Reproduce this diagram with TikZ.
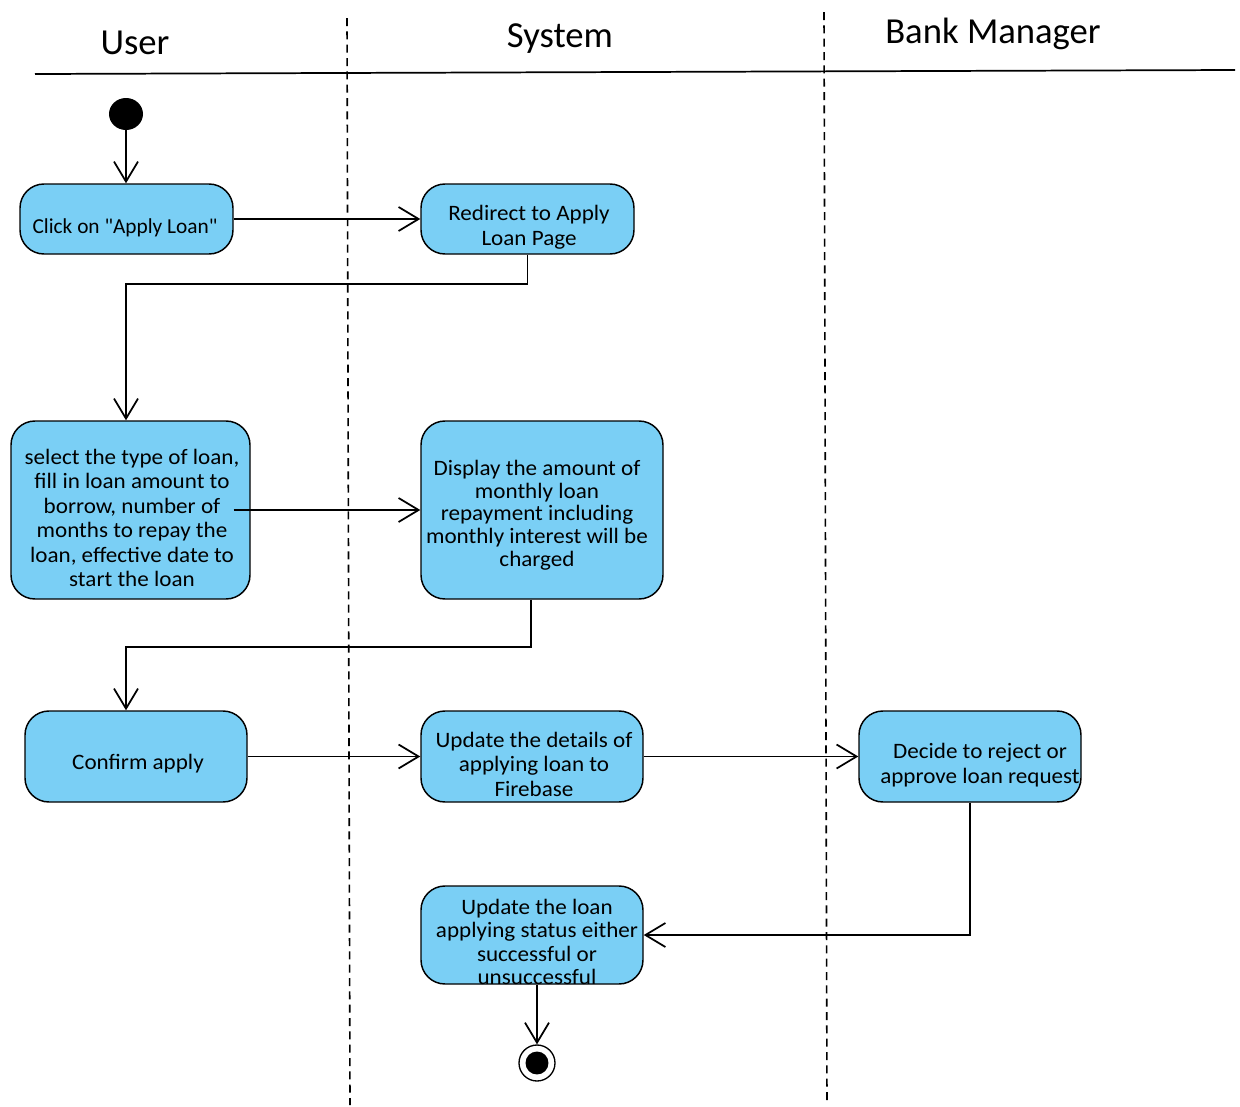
\documentclass[tikz,border=0pt]{standalone}
\usepackage{fontspec}
\setmainfont{Carlito}[Ligatures=TeXOff]
\newfontfamily\boxfont{Carlito}[Ligatures=TeXOff, FakeStretch=1.05]
\usetikzlibrary{arrows.meta,shapes.geometric}
\definecolor{actfill}{RGB}{122,207,245}

\begin{document}
\begin{tikzpicture}[x=0.75pt,y=-0.75pt,
  act/.style={draw=black, line width=1.1pt, fill=actfill, rounded corners=18pt, inner sep=0pt},
  txt/.style={align=center, inner sep=0pt, font=\boxfont\fontsize{16.5}{18.4}\selectfont},
  flow/.style={draw=black, line width=1.3pt, -{Straight Barb[length=15pt,width=18pt,line width=1.3pt]}},
  lane/.style={line width=1.2pt, dash pattern=on 6pt off 4pt},
  head/.style={font=\fontsize{27.5}{32}\selectfont, inner sep=0pt}
]
% canvas
\useasboundingbox (0,0) rectangle (1240,1107);

% swimlane headers and separators
\node[head] (hUser) at (135,43) {User};
\node[head] (hSys) at (560,39) {System};
\node[head] (hBank) at (993,34) {Bank Manager};
\draw[line width=1.3pt] (35,74) -- (1235,70);
\draw[lane] (347,18) -- (350,1105);
\draw[lane] (824,12) -- (827,1105);

% start and end states
\node[fill=black, ellipse, minimum width=25.5pt, minimum height=24pt, inner sep=0pt] (init) at (126,114) {};
\node[circle, draw=black, line width=1pt, fill=white, minimum size=27pt, inner sep=0pt] (fin) at (537,1063) {};
\fill[black] (fin.center) circle (8.6pt);

% activity boxes
\node[act, minimum width=159.75pt, minimum height=52.5pt] (A) at (126.5,219) {};
\node[act, minimum width=159.75pt, minimum height=52.5pt] (B) at (527.5,219) {};
\node[act, minimum width=179.25pt, minimum height=133.5pt] (C) at (130.5,510) {};
\node[act, minimum width=181.5pt, minimum height=133.5pt] (D) at (542,510) {};
\node[act, minimum width=166.5pt, minimum height=68.25pt] (E) at (136,756.5) {};
\node[act, minimum width=166.5pt, minimum height=68.25pt] (F) at (532,756.5) {};
\node[act, minimum width=166.5pt, minimum height=68.25pt] (G) at (970,756.5) {};
\node[act, minimum width=166.5pt, minimum height=73.5pt] (H) at (532,935) {};

% activity labels
\node[txt, font=\fontsize{16}{18.4}\selectfont] (At) at (125,228) {Click on "Apply Loan"};
\node[txt] (Bt) at (529,227) {Redirect to Apply\\Loan Page};
\node[txt] (Ct) at (132,518) {select the type of loan,\\fill in loan amount to\\borrow, number of\\months to repay the\\loan, effective date to\\start the loan};
\node[txt, font=\boxfont\fontsize{16.5}{17}\selectfont] (Dt) at (537,515) {Display the amount of\\monthly loan\\repayment including\\monthly interest will be\\charged};
\node[txt] (Et) at (138,764) {Confirm apply};
\node[txt] (Ft) at (534,764) {Update the details of\\applying loan to\\Firebase};
\node[txt] (Gt) at (980,765) {Decide to reject or\\approve loan request};
\node[txt, font=\boxfont\fontsize{16.5}{17.6}\selectfont] (Ht) at (537,942) {Update the loan\\applying status either\\successful or\\unsuccessful};

% control flow
\draw[flow] (init.south) -- (init.south |- A.north);
\draw[flow] (A.east) -- (B.west);
\coordinate (b1) at (126,284);
\draw[flow] (B.south) |- (b1) -- (b1 |- C.north);
\draw[flow] ([xshift=-12.75pt]C.east) -- (D.west);
\coordinate (d1) at (531,647);
\coordinate (d2) at (126,647);
\draw[flow] (D.south -| d1) -- (d1) -- (d2) -- (d2 |- E.north);
\draw[flow] (E.east) -- (F.west);
\draw[flow] (F.east) -- (G.west);
\draw[flow] (G.south) |- (H.east);
\draw[flow] (H.south -| fin) -- (fin.north);
\end{tikzpicture}
\end{document}
